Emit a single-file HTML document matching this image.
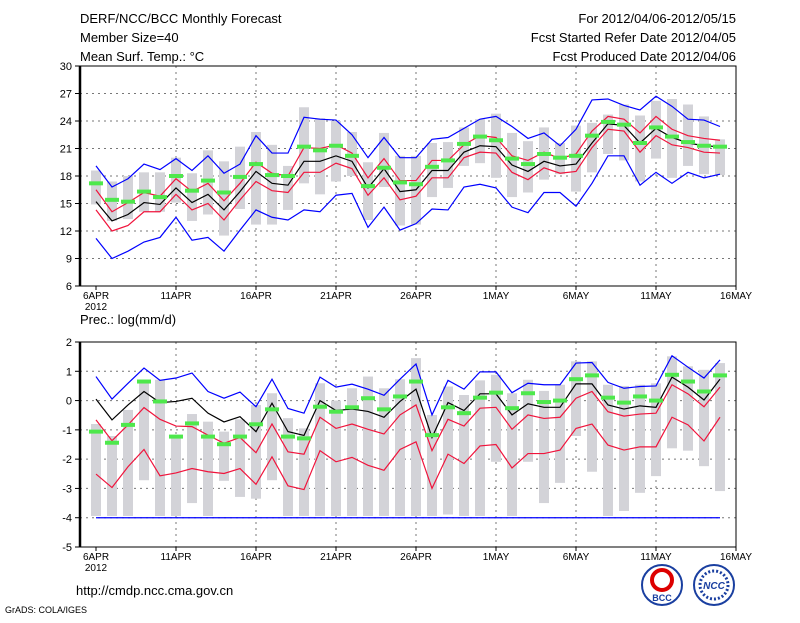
<!DOCTYPE html>
<html><head><meta charset="utf-8">
<style>
body{margin:0;background:#fff;}
svg text{font-family:"Liberation Sans",sans-serif;}
</style></head>
<body>
<svg id="chart" width="800" height="618" xmlns="http://www.w3.org/2000/svg">
<rect width="800" height="618" fill="#fff"/>
<text x="80" y="23" font-size="13">DERF/NCC/BCC Monthly Forecast</text>
<text x="80" y="42" font-size="13">Member Size=40</text>
<text x="80" y="61" font-size="13">Mean Surf. Temp.: °C</text>
<text x="736" y="23" font-size="13" text-anchor="end">For 2012/04/06-2012/05/15</text>
<text x="736" y="42" font-size="13" text-anchor="end">Fcst Started Refer Date 2012/04/05</text>
<text x="736" y="61" font-size="13" text-anchor="end">Fcst Produced Date 2012/04/06</text>
<text x="80" y="324" font-size="13">Prec.: log(mm/d)</text>
<text x="76" y="595" font-size="13">http://cmdp.ncc.cma.gov.cn</text>
<text x="5" y="613" font-size="9">GrADS: COLA/IGES</text>
<g>
<circle cx="662" cy="585" r="20" fill="#fff" stroke="#1a3fa0" stroke-width="2"/>
<circle cx="662" cy="580" r="10" fill="none" stroke="#d00" stroke-width="4"/>
<text x="662" y="601" font-size="9" text-anchor="middle" fill="#1a3fa0" font-weight="bold">BCC</text>
</g>
<g>
<circle cx="714" cy="585" r="20" fill="#fff" stroke="#1a3fa0" stroke-width="2"/>
<circle cx="714" cy="585" r="14" fill="none" stroke="#1a3fa0" stroke-width="3" stroke-dasharray="2 2"/>
<text x="714" y="589" font-size="10" text-anchor="middle" fill="#1a3fa0" font-weight="bold" font-style="italic">NCC</text>
</g>
<g id="top"></g>
<g id="bot"></g>
</svg>
<script>
// ---- Temperature data (days 0..39 from 6 Apr) ----
const tMean=[15.2,13.1,13.8,15.1,14.9,16.7,15.1,16.0,14.3,16.3,18.5,17.2,17.0,19.6,19.6,20.2,19.6,16.7,18.8,16.3,16.5,18.6,18.6,20.6,21.3,21.2,19.2,18.5,19.6,19.1,19.3,21.6,23.7,23.5,21.6,23.2,22.2,21.6,21.3,21.2];
const tRedHi=[16.5,14.1,15.1,16.2,15.8,17.7,16.3,17.2,15.3,17.2,19.5,18.3,18.0,21.1,21.0,21.4,20.5,17.8,19.9,17.5,17.5,19.7,19.7,21.4,22.4,22.2,20.2,19.7,20.6,19.9,20.4,22.9,24.5,24.2,22.7,24.5,23.1,22.4,22.1,21.9];
const tRedLo=[14.3,12.0,12.6,14.1,14.1,16.0,14.3,15.0,13.2,15.4,17.4,16.4,16.2,18.4,18.4,19.4,18.8,15.9,17.8,15.4,15.8,17.8,17.8,20.0,20.6,20.5,18.4,17.6,18.9,18.3,18.5,21.1,23.1,22.9,20.6,22.4,21.4,21.1,20.6,20.5];
const tBlueHi=[19.1,16.8,17.7,19.3,18.7,19.9,18.6,20.2,18.3,19.3,22.4,20.5,20.5,24.4,24.2,24.1,22.5,20.0,22.2,20.0,20.0,22.0,22.2,23.2,24.2,24.5,23.4,22.1,22.7,21.3,23.1,26.3,26.4,25.7,25.2,26.7,25.6,24.2,24.1,23.4];
const tBlueLo=[11.2,9.0,9.8,10.8,11.3,13.5,11.0,11.3,9.8,12.1,14.3,13.5,13.2,14.3,14.1,15.9,16.1,12.4,14.6,12.1,12.8,14.4,14.3,16.8,17.1,16.7,14.6,14.0,16.2,16.2,14.7,17.2,20.2,20.2,17.0,18.4,17.2,18.4,17.8,18.2];
const tCtrl=[17.2,15.4,15.2,16.3,15.7,18.0,16.4,17.5,16.2,17.9,19.3,18.1,18.0,21.2,20.8,21.3,20.2,16.9,18.9,17.3,17.1,19.0,19.7,21.5,22.3,21.9,19.9,19.3,20.4,20.0,20.2,22.4,23.9,23.6,21.6,23.3,22.3,21.7,21.3,21.2];
const tBarTop=[18.6,17.4,18.0,18.4,18.4,20.0,18.3,20.8,19.6,21.2,22.8,21.4,19.1,25.5,24.3,24.0,22.8,19.5,22.7,20.2,20.2,21.6,21.7,23.3,24.2,24.8,22.7,21.8,23.3,21.6,23.5,23.8,24.7,25.8,24.6,26.2,26.4,25.8,24.5,22.0];
const tBarBot=[14.9,13.1,13.3,14.1,14.1,15.1,13.1,13.8,11.5,14.4,12.7,12.7,14.3,17.2,16.0,17.4,18.0,13.2,16.8,12.6,12.7,15.7,16.7,19.1,19.4,17.8,15.7,16.2,17.6,18.2,16.3,18.4,20.4,19.7,17.4,19.9,17.8,19.1,18.2,18.1];
const tTicks=[6,9,12,15,18,21,24,27,30];
// ---- Precipitation data ----
const pMean=[0.05,-0.66,-0.15,0.31,-0.07,-0.03,0.08,-0.43,-0.73,-0.55,-1.06,-0.09,-1.06,-1.19,0.0,-0.34,-0.29,-0.37,-0.57,-0.03,0.39,-1.26,-0.07,-0.34,0.23,0.23,-0.49,-0.11,-0.23,-0.23,0.57,0.57,-0.15,-0.29,-0.18,-0.23,0.8,0.46,0.02,0.73];
const pRedHi=[-0.66,-1.37,-0.83,-0.24,-0.64,-0.87,-0.89,-1.18,-1.46,-1.26,-1.78,-0.8,-1.75,-1.83,-0.57,-0.95,-0.8,-0.98,-1.14,-0.49,-0.15,-1.71,-0.64,-0.87,-0.26,-0.23,-0.98,-0.49,-0.61,-0.57,0.08,0.31,-0.38,-0.53,-0.46,-0.43,0.54,0.23,-0.21,0.46];
const pRedLo=[-2.51,-2.97,-2.26,-1.67,-2.57,-2.47,-2.32,-2.43,-2.49,-2.32,-2.86,-1.92,-2.91,-3.04,-1.71,-2.09,-1.94,-2.21,-2.38,-1.67,-1.41,-3.0,-1.83,-2.15,-1.55,-1.5,-2.3,-1.81,-1.81,-1.69,-0.95,-0.8,-1.52,-1.69,-1.58,-1.58,-0.57,-0.83,-1.38,-0.57];
const pBlueHi=[0.82,0.05,0.59,1.11,0.69,0.77,0.94,0.31,0.08,0.29,-0.21,0.73,-0.27,-0.43,0.8,0.46,0.56,0.39,0.18,0.73,1.25,-0.49,0.69,0.39,0.98,0.98,0.27,0.59,0.54,0.54,1.28,1.3,0.62,0.42,0.48,0.5,1.53,1.14,0.77,1.39];
const pBlueLo=[-4,-4,-4,-4,-4,-4,-4,-4,-4,-4,-4,-4,-4,-4,-4,-4,-4,-4,-4,-4,-4,-4,-4,-4,-4,-4,-4,-4,-4,-4,-4,-4,-4,-4,-4,-4,-4,-4,-4,-4];
const pCtrl=[-1.06,-1.44,-0.83,0.65,-0.03,-1.23,-0.78,-1.23,-1.49,-1.23,-0.81,-0.3,-1.23,-1.29,-0.21,-0.38,-0.23,0.08,-0.3,0.14,0.65,-1.18,-0.23,-0.43,0.1,0.27,-0.26,0.25,-0.05,0.0,0.73,0.86,0.1,-0.07,0.14,0.0,0.88,0.65,0.31,0.86];
const pBarTop=[-0.8,-1.21,-0.32,0.71,0.71,-1.18,-0.46,-0.72,-1.06,-0.64,-0.15,0.25,-0.6,-0.95,0.59,0.0,0.42,0.82,0.42,0.73,1.45,-0.49,0.48,0.19,0.69,0.88,0.25,0.71,0.33,0.54,1.34,1.34,0.54,0.5,0.54,0.59,1.51,1.17,1.05,1.28];
const pBarBot=[-3.94,-3.94,-3.94,-2.72,-3.94,-3.94,-3.5,-3.94,-2.74,-3.29,-3.35,-2.72,-3.94,-3.94,-3.94,-3.94,-3.94,-3.94,-3.94,-3.94,-3.94,-3.94,-3.89,-3.94,-3.94,-2.09,-3.94,-2.09,-3.5,-2.81,-1.21,-2.43,-3.94,-3.77,-3.15,-2.58,-1.63,-1.71,-2.24,-3.09];
const pTicks=[-5,-4,-3,-2,-1,0,1,2];
const dateLabels=["6APR","11APR","16APR","21APR","26APR","1MAY","6MAY","11MAY","16MAY"];
const dateDays=[0,5,10,15,20,25,30,35,40];

const NS="http://www.w3.org/2000/svg";
const X0=80,X1=736;
function xS(d){return 96+16*d;}
function mk(tag,attrs,parent){const e=document.createElementNS(NS,tag);for(const k in attrs)e.setAttribute(k,attrs[k]);parent.appendChild(e);return e;}

function panel(g,Y0,Y1,vmin,vmax,ticks,series,ctrl,bTop,bBot,name,dashedMin){
  const yS=v=>Y0+(vmax-v)*(Y1-Y0)/(vmax-vmin);
  // grid
  ticks.forEach(t=>{
    if(t>vmin&&t<vmax){const l=mk('line',{x1:X0,x2:X1,y1:yS(t),y2:yS(t),stroke:'#777','stroke-dasharray':'2 4'},g);
    
    }
    const tk=mk('line',{x1:X0-5,x2:X0,y1:yS(t),y2:yS(t),stroke:'#000'},g);
    
    
    const tx=mk('text',{x:X0-8,y:yS(t)+4,'font-size':11,'text-anchor':'end'},g);tx.textContent=t;
    
    
  });
  dateDays.forEach((d,i)=>{
    if(d>0&&d<40){const l=mk('line',{x1:xS(d),x2:xS(d),y1:Y0,y2:Y1,stroke:'#777','stroke-dasharray':'2 4'},g);
    
    }
    const tk=mk('line',{x1:xS(d),x2:xS(d),y1:Y1,y2:Y1+4,stroke:'#000'},g);
    
    
    const tx=mk('text',{x:Math.min(xS(d),X1+14),y:Y1+13,'font-size':10,'text-anchor':'middle'},g);tx.textContent=dateLabels[i];
    
    
  });
  const yr=mk('text',{x:96,y:Y1+24,'font-size':10,'text-anchor':'middle'},g);yr.textContent='2012';
  
  
  if(dashedMin!==undefined){const l=mk('line',{x1:X0+16,x2:X1-16,y1:yS(dashedMin),y2:yS(dashedMin),stroke:'#000','stroke-dasharray':'3 2'},g);
    
    }
  // bars
  bTop.forEach((v,i)=>{
    const r=mk('rect',{x:xS(i)-5,y:yS(v),width:10,height:yS(bBot[i])-yS(v),fill:'#d3d3d8'},g);
    
    
  });
  series.forEach(s=>{
    const p=mk('polyline',{points:s.d.map((v,i)=>xS(i)+','+yS(v)).join(' '),fill:'none',stroke:s.c,'stroke-width':1.2},g);
    
    
  });
  ctrl.forEach((v,i)=>{
    const r=mk('rect',{x:xS(i)-7,y:yS(v)-2,width:14,height:4,fill:'#4ee84c'},g);
    
    
  });
  const f=mk('rect',{x:X0,y:Y0,width:X1-X0,height:Y1-Y0,fill:'none',stroke:'#000'},g);
  
  
  const ax=mk('line',{x1:X0,x2:X0,y1:Y0,y2:Y1,stroke:'#000','stroke-width':2.5},g);
  
  
}
panel(document.getElementById('top'),66,286,6,30,tTicks,
 [{d:tBlueHi,c:'#0000ff',n:'max-line'},{d:tBlueLo,c:'#0000ff',n:'min-line'},{d:tRedHi,c:'#f0143c',n:'upper-sd-line'},{d:tRedLo,c:'#f0143c',n:'lower-sd-line'},{d:tMean,c:'#000',n:'mean-line'}],
 tCtrl,tBarTop,tBarBot,'temp');
panel(document.getElementById('bot'),342,547,-5,2,pTicks,
 [{d:pBlueHi,c:'#0000ff',n:'max-line'},{d:pRedHi,c:'#f0143c',n:'upper-sd-line'},{d:pRedLo,c:'#f0143c',n:'lower-sd-line'},{d:pMean,c:'#000',n:'mean-line'},{d:pBlueLo,c:'#0000ff',n:'min-line'}],
 pCtrl,pBarTop,pBarBot,'precip');
</script>
</body></html>
